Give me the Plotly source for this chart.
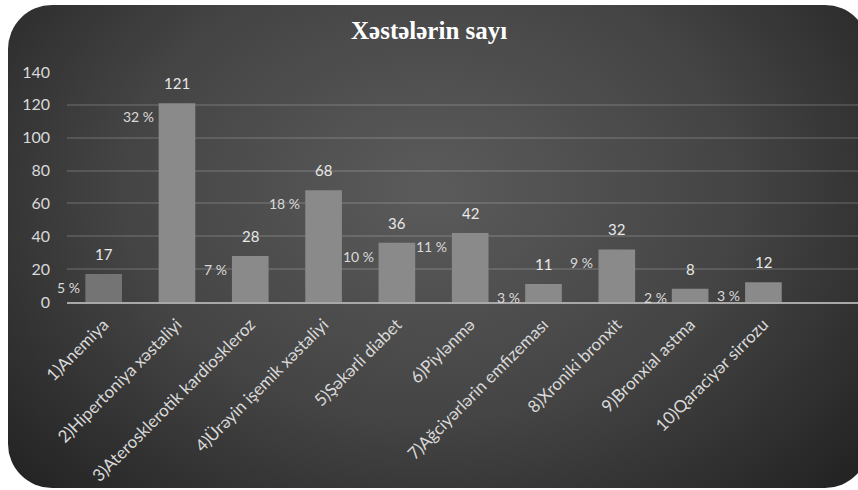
import base64
import plotly.graph_objects as go

# Disease categories and number of patients
categories = [
    "1)Anemiya",
    "2)Hipertoniya xəstaliyi",
    "3)Aterosklerotik kardioskleroz",
    "4)Ürəyin işemik xəstaliyi",
    "5)Şəkərli diabet",
    "6)Piylənmə",
    "7)Ağciyərlərin emfizeması",
    "8)Xroniki bronxit",
    "9)Bronxial astma",
    "10)Qaraciyər sirrozu",
]
patients = [17, 121, 28, 68, 36, 42, 11, 32, 8, 12]
y_ticks = [0, 20, 40, 60, 80, 100, 120, 140]
title_text = "Xəstələrin sayı"

W, H = 858, 490
M_L, M_R, M_T, M_B = 67, 0, 72, 188
plot_w = W - M_L - M_R
plot_h = H - M_T - M_B

total = sum(patients)
shares = [round(100 * v / total) for v in patients]

# Rounded dark panel with a soft radial highlight
svg = f"""<svg xmlns='http://www.w3.org/2000/svg' width='{W}' height='{H}' viewBox='0 0 {W} {H}' preserveAspectRatio='none'>
<defs>
<radialGradient id='g' gradientUnits='userSpaceOnUse' cx='0' cy='0' r='1'
 gradientTransform='translate(430 190) scale(560 420)'>
<stop offset='0' stop-color='#5b5b5b'/>
<stop offset='0.55' stop-color='#444444'/>
<stop offset='1' stop-color='#242424'/>
</radialGradient>
</defs>
<rect x='0' y='0' width='{W}' height='{H}' fill='#ffffff'/>
<rect x='8' y='5' width='861' height='483' rx='44' ry='44' fill='url(#g)'/>
</svg>"""
bg_src = "data:image/svg+xml;base64," + base64.b64encode(svg.encode("utf-8")).decode("ascii")

bar_colors = ["#747474"] + ["#8a8a8a"] * (len(patients) - 1)

fig = go.Figure(
    go.Bar(
        x=list(range(len(categories))),
        y=patients,
        width=0.5,
        marker=dict(color=bar_colors, line=dict(width=0)),
        hoverinfo="skip",
    )
)

annotations = []
for i, (v, s) in enumerate(zip(patients, shares)):
    # count above each bar
    annotations.append(dict(
        x=i, y=v, xref="x", yref="y", text=str(v), showarrow=False,
        yanchor="bottom", yshift=9,
        font=dict(family="Lato, 'Open Sans', sans-serif", size=15, color="#e8e8e8"),
    ))
    # share of all patients, to the left of the bar
    annotations.append(dict(
        x=i - 0.25, y=max(v - 8, 3), xref="x", yref="y", text=f"{s} %",
        showarrow=False, xanchor="right", yanchor="middle", xshift=-3,
        font=dict(family="Lato, 'Open Sans', sans-serif", size=14, color="#dadada"),
    ))

# chart title, positioned in canvas pixels converted to plot-area paper units
annotations.append(dict(
    x=(429 - M_L) / plot_w, y=1 + (M_T - 31) / plot_h,
    xref="paper", yref="paper", xanchor="center", yanchor="middle",
    showarrow=False, text=f"<b>{title_text}</b>",
    font=dict(family="'Liberation Serif', 'Times New Roman', serif", size=25, color="#ffffff"),
))

fig.update_layout(
    width=W, height=H,
    margin=dict(l=M_L, r=M_R, t=M_T, b=M_B, pad=0),
    paper_bgcolor="#ffffff",
    plot_bgcolor="rgba(0,0,0,0)",
    showlegend=False,
    images=[dict(
        source=bg_src, xref="paper", yref="paper",
        x=-M_L / plot_w, y=1 + M_T / plot_h,
        sizex=W / plot_w, sizey=H / plot_h,
        xanchor="left", yanchor="top", sizing="stretch", layer="below",
    )],
    annotations=annotations,
    xaxis=dict(
        range=[-0.5, 10.29],
        tickmode="array",
        tickvals=list(range(len(categories))),
        ticktext=categories,
        tickangle=-45,
        showgrid=False,
        zeroline=False,
        showline=True,
        linecolor="#a8a8a8",
        linewidth=2,
        layer="above traces",
        ticks="",
        ticklabelstandoff=4,
        tickfont=dict(family="Lato, 'Open Sans', sans-serif", size=17, color="#d9d9d9"),
    ),
    yaxis=dict(
        range=[0, 140],
        tickmode="array",
        tickvals=y_ticks,
        showgrid=True,
        gridcolor="rgba(255,255,255,0.13)",
        gridwidth=1.5,
        zeroline=False,
        showline=False,
        ticks="",
        ticklabelstandoff=16,
        tickfont=dict(family="Lato, 'Open Sans', sans-serif", size=16, color="#d9d9d9"),
    ),
)

fig.write_html("out.html")
